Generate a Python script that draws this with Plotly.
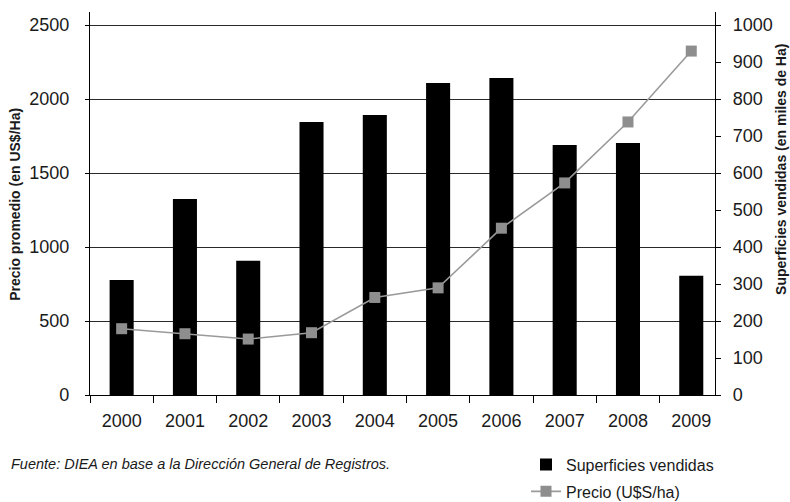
import plotly.graph_objects as go

# Land market series, 2000-2009
years = ["2000", "2001", "2002", "2003", "2004", "2005", "2006", "2007", "2008", "2009"]
superficies = [311, 530, 363, 738, 757, 843, 857, 676, 681, 322]   # miles de Ha
precio = [448, 414, 378, 421, 659, 724, 1127, 1433, 1845, 2324]   # US$/Ha

left_ticks = [0, 500, 1000, 1500, 2000, 2500]
right_ticks = list(range(0, 1001, 100))

FONT = "Liberation Sans, Arial, sans-serif"
INK = "#1a1a1a"

pos = list(range(len(years)))

left_max = 2588
right_max = left_max * 1000 / 2500

fig = go.Figure()
# bars on the base (right-hand) axis, price line on the overlaying left axis so it sits on top
fig.add_trace(go.Bar(
    x=pos, y=superficies, name="Superficies vendidas", yaxis="y", legendgroup="sup",
    marker=dict(color="#000000", line=dict(width=0)), width=0.38,
))
fig.add_trace(go.Scatter(
    x=pos, y=precio, name="Precio (U$S/ha)", yaxis="y2", mode="lines+markers",
    legendgroup="pre",
    line=dict(color="#9a9a9a", width=1.6),
    marker=dict(symbol="square", size=11, color="#8e8e8e"),
))

fig.update_layout(
    width=790, height=502,
    margin=dict(l=90, r=75, t=12, b=106.7, autoexpand=False),
    paper_bgcolor="white", plot_bgcolor="white",
    font=dict(family=FONT, size=18, color=INK),
    showlegend=True,
    legend=dict(x=(526 - 90) / 625, y=-(448 - 395.3) / 383.3, xanchor="left", yanchor="top",
                font=dict(size=16), bgcolor="rgba(0,0,0,0)", tracegroupgap=3,
                traceorder="grouped"),
    xaxis=dict(
        range=[-0.5, 9.375], tickvals=pos, ticktext=years, ticks="",
        showline=True, linecolor="#000", linewidth=1.3, showgrid=False, zeroline=False,
        minor=dict(tick0=0.5, dtick=1, ticks="outside", ticklen=7, tickcolor="#000",
                   tickwidth=1.3, showgrid=False),
        tickfont=dict(size=18), ticklabelstandoff=9,
    ),
    yaxis=dict(
        range=[0, right_max], tickvals=right_ticks, side="right",
        ticks="outside", ticklen=5, tickcolor="#000", tickwidth=1.3,
        showline=True, linecolor="#000", linewidth=1.3,
        showgrid=False, zeroline=False,
        tickfont=dict(size=18), ticklabelstandoff=8,
    ),
    yaxis2=dict(
        range=[0, left_max], tickvals=left_ticks, overlaying="y", side="left",
        ticks="outside", ticklen=4, tickcolor="#000", tickwidth=1.3,
        showline=True, linecolor="#000", linewidth=1.3,
        showgrid=True, gridcolor="#2a2a2a", gridwidth=1.2, zeroline=False,
        tickfont=dict(size=18), ticklabelstandoff=12,
    ),
    annotations=[
        dict(text="<b>Precio promedio (en US$/Ha)</b>", textangle=-90,
             xref="paper", yref="paper", x=-75 / 625, y=(395.3 - 205) / 383.3,
             xanchor="center", yanchor="middle", showarrow=False,
             font=dict(size=14)),
        dict(text="<b>Superficies vendidas (en miles de Ha)</b>", textangle=-90,
             xref="paper", yref="paper", x=(781 - 90) / 625, y=(395.3 - 170) / 383.3,
             xanchor="center", yanchor="middle", showarrow=False,
             font=dict(size=14)),
        dict(text="<i>Fuente: DIEA en base a la Dirección General de Registros.</i>",
             xref="paper", yref="paper", x=(9 - 90) / 625, y=(395.3 - 464) / 383.3,
             xanchor="left", yanchor="middle", showarrow=False,
             font=dict(size=14.5)),
    ],
)

fig.write_html("out.html")
